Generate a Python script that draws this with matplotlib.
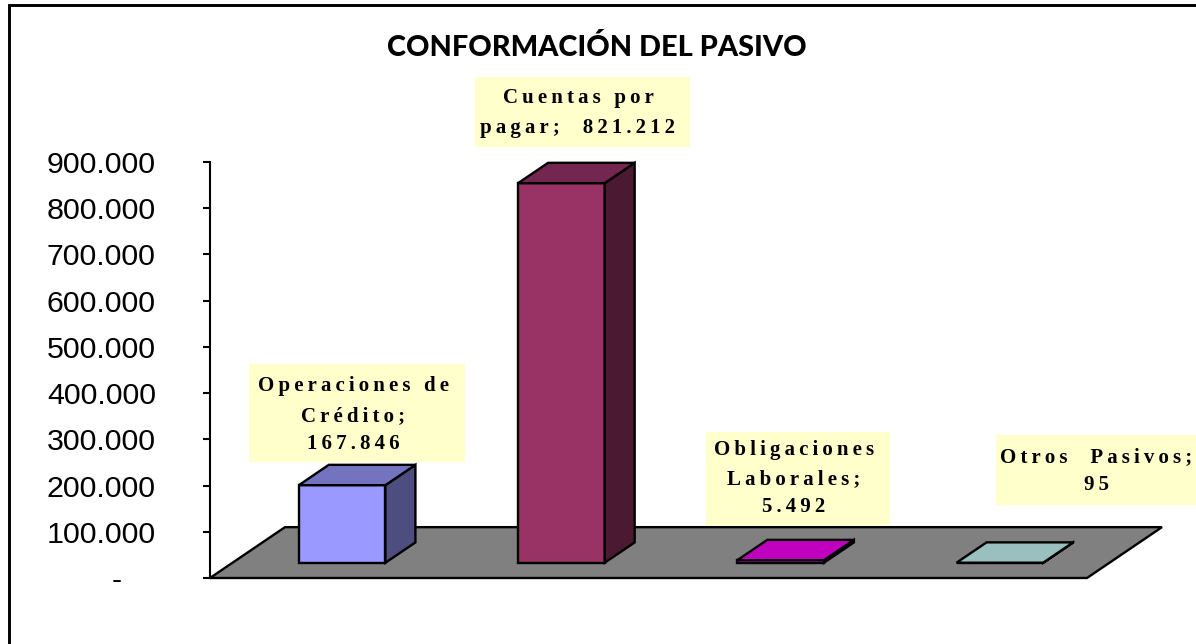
import matplotlib
matplotlib.use('Agg')
import matplotlib.pyplot as plt
from matplotlib.patches import Polygon, Rectangle

categories = ['Operaciones de Crédito', 'Cuentas por pagar', 'Obligaciones Laborales', 'Otros Pasivos']
values = [167846, 821212, 5492, 95]
value_labels = ['167.846', '821.212', '5.492', '95']
tick_values = [0, 100000, 200000, 300000, 400000, 500000, 600000, 700000, 800000, 900000]
tick_labels = ['-    ', '100.000', '200.000', '300.000', '400.000', '500.000', '600.000', '700.000', '800.000', '900.000']
title = 'CONFORMACIÓN DEL PASIVO'

# label text as it wraps in the picture
label_lines = [
    ['Operaciones de', 'Crédito;', '167.846'],
    ['Cuentas por', 'pagar;  821.212'],
    ['Obligaciones', 'Laborales;', '5.492'],
    ['Otros  Pasivos;', '95'],
]

front_colors = ['#9999FF', '#993366', '#FF00FF', '#CCFFFF']
top_colors = ['#7373BF', '#732650', '#BF00BF', '#99BFBF']
side_colors = ['#4D4D80', '#4C1933', '#800080', '#668080']

W, H = 1196, 644
fig = plt.figure(figsize=(W / 100, H / 100), dpi=100)

# axes placed on the pixel frame of the reference
ax = fig.add_axes([210 / W, (H - 578) / H, 877 / W, 416 / H])
ax.set_xlim(-0.5, 3.5)
ax.set_ylim(0, 900000)

# fake 3d: how far the back of the floor sits from the front
depth_x = 0.342
depth_y = 110000
bar_w = 0.395
front_off = 0.3  # bars start this far into the floor
bar_depth = 0.4


def face(pts, color, lw=1.7):
    ax.add_patch(Polygon(pts, closed=True, facecolor=color, edgecolor='black', linewidth=lw,
                         joinstyle='miter', clip_on=False))


x0, x1 = ax.get_xlim()
face([(x0, 0), (x1, 0), (x1 + depth_x, depth_y), (x0 + depth_x, depth_y)], '#808080')

for i, v in enumerate(values):
    left = i - bar_w / 2 + depth_x * front_off
    right = left + bar_w
    base = depth_y * front_off
    top = base + v
    dx = depth_x * bar_depth
    dy = depth_y * bar_depth
    face([(left, base), (right, base), (right, top), (left, top)], front_colors[i])
    face([(right, base), (right + dx, base + dy), (right + dx, top + dy), (right, top)], side_colors[i])
    face([(left, top), (right, top), (right + dx, top + dy), (left + dx, top + dy)], top_colors[i])

ax.spines[['top', 'right', 'bottom']].set_visible(False)
ax.spines['left'].set_linewidth(1.5)
ax.patch.set_alpha(0)
ax.set_xticks([])
ax.set_yticks(tick_values)
ax.set_yticklabels(tick_labels, fontname='Liberation Sans', fontsize=21.9)
ax.tick_params(axis='y', length=5, width=1.5, pad=34)

# overlay in pixels for frame, title and the label boxes
px = fig.add_axes([0, 0, 1, 1])
px.set_xlim(0, W)
px.set_ylim(H, 0)
px.axis('off')
px.patch.set_alpha(0)

# frame only has its top and left lines inside the crop
px.plot([8.5, 8.5, W], [H, 5, 5], color='black', linewidth=2.1, solid_joinstyle='miter')
px.text(596.5, 47, title, ha='center', va='center', fontname='Lato', fontweight='black', fontsize=20.8)

label_boxes = [(249, 364, 216, 98), (475, 77, 215, 70), (706, 432, 184, 94), (996, 435, 200, 70)]
text_xs = [353, 578, 794, 1096]
line_ys = [[386, 416, 444], [98, 128], [450, 479, 507], [457, 485]]


def tracked(s):
    # the original has very loose letter spacing
    return '\u2009'.join(s)


for box, tx, lines, ys in zip(label_boxes, text_xs, label_lines, line_ys):
    bx, by, bw, bh = box
    px.add_patch(Rectangle((bx, by), bw, bh, facecolor='#FFFFCC', edgecolor='none'))
    for line, y in zip(lines, ys):
        px.text(tx, y, tracked(line), ha='center', va='center', fontname='Liberation Serif',
                fontweight='bold', fontsize=15)

fig.savefig('out.png', dpi=100)
